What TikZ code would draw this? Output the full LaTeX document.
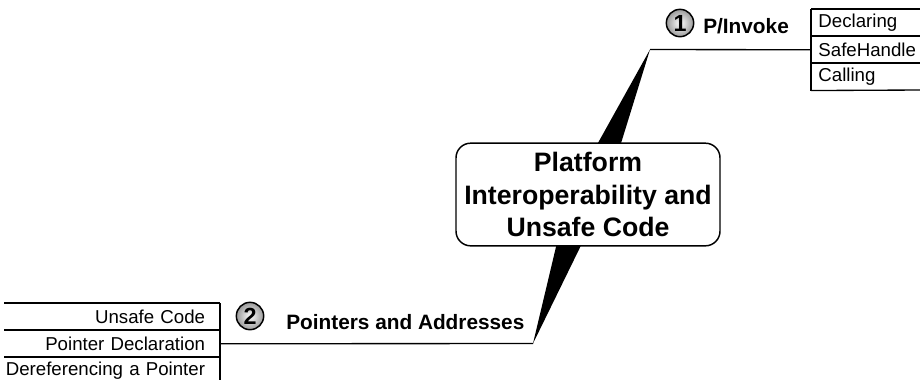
\documentclass[tikz,border=0pt]{standalone}
\usepackage{fontspec}
\setmainfont{Liberation Sans}
\begin{document}
\begin{tikzpicture}[x=0.75pt,y=-0.75pt,
  rootbox/.style={draw, line width=1.1pt, fill=white, rounded corners=11pt,
    minimum width=198pt, minimum height=77pt, align=center, inner sep=0pt,
    font=\bfseries\fontsize{20}{24.4}\selectfont},
  numball/.style={circle, draw, line width=1.1pt, inner sep=0pt, minimum size=20.5pt,
    shading=radial, inner color=white, outer color=black!40,
    font=\bfseries\fontsize{17.5}{18}\selectfont},
  branchlabel/.style={inner sep=0pt, font=\bfseries\fontsize{15.6}{18}\selectfont},
  rowL/.style={inner sep=0pt, inner xsep=5pt, minimum width=81.75pt, minimum height=20.25pt,
    text width=71pt, align=left, font=\fontsize{14}{16}\selectfont},
  rowR/.style={inner sep=0pt, inner xsep=11pt, minimum width=162pt, minimum height=20.25pt,
    text width=150pt, align=right, font=\fontsize{14}{16}\selectfont},
  rule/.style={line width=1pt}
]
\useasboundingbox (0,0) rectangle (920,380);

% tips of the wedges
\coordinate (t1) at (650,49.5);
\coordinate (t2) at (533,343.5);
\coordinate (rc) at (587,195);

% wedges
\fill ([xshift=-13.5pt]rc) -- (t1) -- ([xshift=13.5pt]rc) -- cycle;
\fill ([xshift=-14pt]rc) -- (t2) -- ([xshift=14pt]rc) -- cycle;

% root
\node[rootbox] (root) at (588,194.5) {Platform\\Interoperability and\\Unsafe Code};

% top right sub-items
\node[rowL, anchor=north west] (d1) at (811,9) {Declaring};
\node[rowL, anchor=north west] (d2) at (811,36) {SafeHandle};
\node[rowL, anchor=north west] (d3) at (811,63) {Calling};
\draw[rule] (d1.north west) -- (920,9);
\draw[rule] (d2.north west) -- (920,36);
\draw[rule] (d3.north west) -- (920,63);
\draw[rule] (d3.south west) -- (920,90);
\draw[rule] (d1.north west) -- (d3.south west);
\draw[rule] (t1) -- (d2.west);

% bottom left sub-items
\node[rowR, anchor=north east] (p1) at (220,303) {Unsafe Code};
\node[rowR, anchor=north east] (p2) at (220,330) {Pointer Declaration};
\node[rowR, anchor=north east] (p3) at (220,357) {Dereferencing a Pointer};
\draw[rule] (4,303) -- (p1.north east);
\draw[rule] (4,330) -- (p2.north east);
\draw[rule] (4,357) -- (p3.north east);
\draw[rule] (p1.north east) -- (220,380);
\draw[rule] (t2) -- (p2.east);

% labels
\node[numball] (n1) at (680,23) {1};
\node[branchlabel, anchor=base west] (l1) at (703,33) {P/Invoke};
\node[numball] (n2) at (250,316) {2};
\node[branchlabel, anchor=base west] (l2) at (286,329.5) {Pointers and Addresses};
\end{tikzpicture}
\end{document}
